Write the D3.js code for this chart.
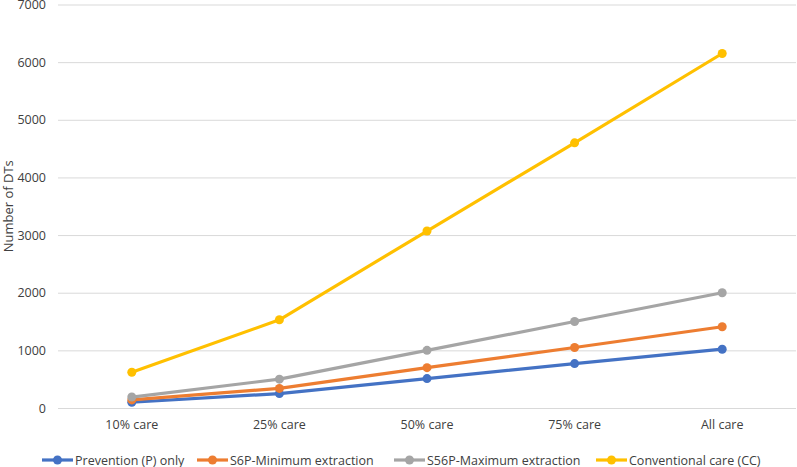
<!DOCTYPE html>
<html><head><meta charset="utf-8">
<script src="https://cdn.jsdelivr.net/npm/d3@7"></script>
<style>body{margin:0;background:#fff}svg{display:block}text{font-family:"Liberation Sans Narrow","Open Sans",Arial,sans-serif;fill:#404040}</style>
</head><body><svg id="c" width="797" height="467"></svg>
<script>
const categories = ["10% care","25% care","50% care","75% care","All care"];
const seriesNames = ["Prevention (P) only","S6P-Minimum extraction","S56P-Maximum extraction","Conventional care (CC)"];
const prevention = [100, 250, 510, 770, 1020];
const s6p = [140, 340, 700, 1050, 1410];
const s56p = [190, 500, 1000, 1500, 2000];
const conventional = [620, 1530, 3070, 4600, 6150];
const yTicks = [0,1000,2000,3000,4000,5000,6000,7000];
const colors = ["#4472C4","#ED7D31","#A5A5A5","#FFC000"];
const allSeries = [prevention, s6p, s56p, conventional];

(function(){
const svg = d3.select("#c");
const pL = 58, pR = 796, pT = 4.5, pB = 408;
const x = d3.scaleBand().domain(categories).range([pL, pR]);
const y = d3.scaleLinear().domain([0,7000]).range([pB, pT]);

const yAxis = svg.append("g").attr("transform",`translate(${pL},0)`)
  .call(d3.axisLeft(y).tickValues(yTicks).tickFormat(d3.format("d")).tickSize(-(pR-pL)).tickPadding(12));
yAxis.select(".domain").remove();
yAxis.selectAll("line").attr("stroke","#d9d9d9").attr("stroke-width",1);
yAxis.selectAll("text").style("font-size","12.5px").attr("fill","#404040");

const xAxis = svg.append("g").attr("transform",`translate(0,${pB})`)
  .call(d3.axisBottom(x).tickSize(0).tickPadding(12));
xAxis.select(".domain").remove();
xAxis.selectAll("text").style("font-size","12.5px").attr("fill","#404040");

svg.append("text").attr("transform",`translate(13,${(pT+pB)/2}) rotate(-90)`)
  .attr("text-anchor","middle").style("font-size","13px").attr("fill","#000").text("Number of DTs");

const cx = d => x(d) + x.bandwidth()/2;
const line = d3.line().x((d,i)=>cx(categories[i])).y(d=>y(d));
allSeries.forEach((s,k)=>{
  svg.append("path").datum(s).attr("d",line).attr("fill","none")
    .attr("stroke",colors[k]).attr("stroke-width",3.2).attr("stroke-linejoin","round");
  svg.selectAll(null).data(s).enter().append("circle")
    .attr("cx",(d,i)=>cx(categories[i])).attr("cy",d=>y(d)).attr("r",4.5).attr("fill",colors[k]);
});

const legX = [42, 197, 394, 596];
const ly = 460;
seriesNames.forEach((n,k)=>{
  const g = svg.append("g").attr("transform",`translate(${legX[k]},${ly})`);
  g.append("line").attr("x1",0).attr("x2",31).attr("y1",0).attr("y2",0).attr("stroke",colors[k]).attr("stroke-width",3.2);
  g.append("circle").attr("cx",15.5).attr("cy",0).attr("r",4.5).attr("fill",colors[k]);
  g.append("text").attr("x",33).attr("y",4.5).style("font-size","12.5px").attr("fill","#000").text(n);
});
})();
</script></body></html>
